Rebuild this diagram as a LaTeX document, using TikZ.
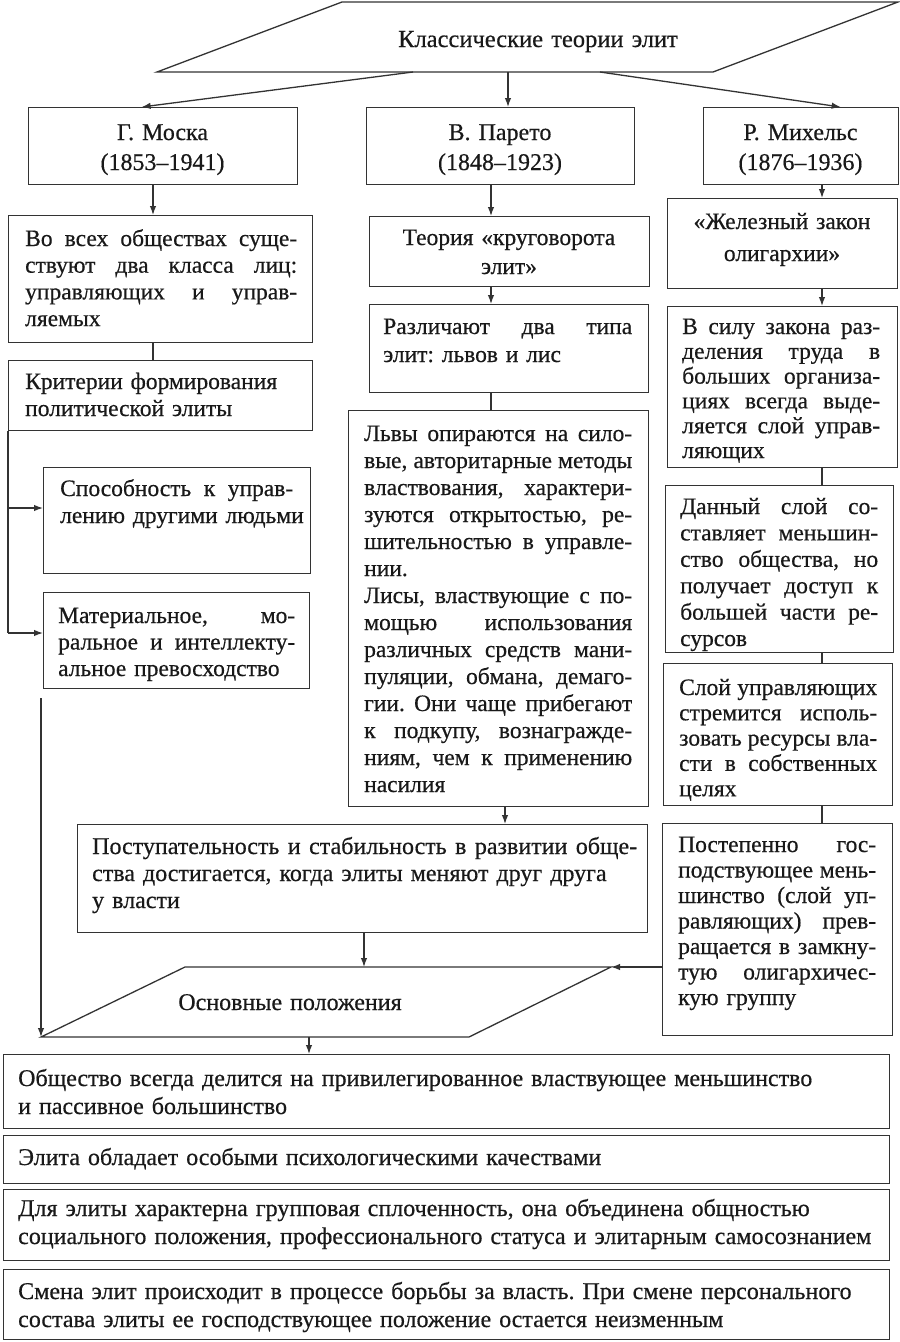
\documentclass[tikz,border=0pt]{standalone}
\usepackage{fontspec}
\setmainfont{Liberation Serif}[FakeBold=0.5]
\usetikzlibrary{arrows.meta,calc}
\newlength\jw
\newcommand\jl[1]{\makebox[\jw][s]{\spaceskip=0.25em plus 1fil minus 0.08em\relax #1}\\}
\newcommand\mkbox[5]{\node[bx, anchor=north west, minimum width={(#4-#2)*1pt}, minimum height={(#5-#3)*1pt}] (#1) at (#2,#3) {};}
\frenchspacing
\begin{document}
\begin{tikzpicture}[x=1pt,y=-1pt,
  ln/.style={draw=black!80, line width=1.3pt},
  bx/.style={ln, rectangle, inner sep=0pt},
  arr/.style={ln, -{Latex[length=9pt,width=6.5pt]}},
  tx/.style={text=black!90, inner sep=0pt, anchor=base west},
  ctx/.style={text=black!90, inner sep=0pt, anchor=base, align=center},
  tw/.style={text width=#1, execute at begin node={\setlength\jw{#1}}},
]
\fill[white] (0,0) rectangle (900,1342);
\useasboundingbox (0,0) rectangle (900,1342);

% top parallelogram
\draw[ln] (342,2) -- (898,2) -- (713,72) -- (157,72) -- cycle;
\node[ctx, text width=400pt, font=\fontsize{24.5}{28}\selectfont] (ptop) at (538,47) {Классические теории элит};
\coordinate (p1a) at (413,72);
\coordinate (p1b) at (508,72);
\coordinate (p1c) at (600,72);

% top boxes
\mkbox{moska}{28}{107}{297}{184}
\mkbox{pareto}{366}{107}{634}{184}
\mkbox{mich}{703}{107}{898}{184}
\node[ctx, text width=260pt, font=\fontsize{24}{30}\selectfont] (tmoska) at (162.5,140) {Г. Моска\\(1853–1941)};
\node[ctx, text width=260pt, font=\fontsize{24}{30}\selectfont] (tpareto) at (500,140) {В. Парето\\(1848–1923)};
\node[ctx, text width=190pt, font=\fontsize{24}{30}\selectfont] (tmich) at (800.5,140) {Р. Михельс\\(1876–1936)};

% left column
\mkbox{boxA}{8}{215}{312}{342}
\mkbox{boxB}{8}{360}{312}{430}
\mkbox{boxC}{43}{467}{310}{573}
\mkbox{boxD}{43}{592}{309}{688}
\node[tx, tw=272pt, font=\fontsize{23.5}{26.7}\selectfont] (tA) at (25,246) {%
\jl{Во всех обществах суще-}
\jl{ствуют два класса лиц:}
\jl{управляющих и управ-}
ляемых};
\node[tx, tw=282pt, font=\fontsize{23.5}{27}\selectfont] (tB) at (25,389) {Критерии формирования\\политической элиты};
\node[tx, tw=233pt, font=\fontsize{23.5}{27}\selectfont] (tC) at (60,496) {%
\jl{Способность к управ-}
\mbox{лению другими людьми}};
\node[tx, tw=237pt, font=\fontsize{23.5}{26.5}\selectfont] (tD) at (58,623) {%
\jl{Материальное, мо-}
\jl{ральное и интеллекту-}
\mbox{альное превосходство}};

% middle column
\mkbox{boxE}{369}{216}{649}{286}
\mkbox{boxF}{369}{304}{648}{392}
\mkbox{lvy}{348}{410}{648}{806}
\mkbox{posl}{77}{824}{647}{932}
\node[ctx, text width=270pt, font=\fontsize{23.5}{29}\selectfont] (tE) at (509,245) {Теория «круговорота\\элит»};
\node[tx, tw=249pt, font=\fontsize{23.5}{28}\selectfont] (tF) at (383,334) {%
\jl{Различают два типа}
элит: львов и лис};
\node[tx, tw=268pt, font=\fontsize{23.5}{27}\selectfont] (tL) at (364,441) {%
\jl{Львы опираются на сило-}
\jl{вые, авторитарные методы}
\jl{властвования, характери-}
\jl{зуются открытостью, ре-}
\jl{шительностью в управле-}
нии.\\
\jl{Лисы, властвующие с по-}
\jl{мощью использования}
\jl{различных средств мани-}
\jl{пуляции, обмана, демаго-}
\jl{гии. Они чаще прибегают}
\jl{к подкупу, вознагражде-}
\jl{ниям, чем к применению}
насилия};
\node[tx, tw=545pt, font=\fontsize{24}{27}\selectfont] (tP) at (92,854) {%
\jl{Поступательность и стабильность в развитии обще-}
\mbox{ства достигается, когда элиты меняют друг друга}\\
у власти};

% right column
\mkbox{zel}{667}{198}{897}{288}
\mkbox{vsilu}{667}{306}{897}{467}
\mkbox{dannyi}{665}{485}{893}{652}
\mkbox{sloy}{663}{663}{892}{805}
\mkbox{postep}{662}{823}{892}{1035}
\node[ctx, text width=228pt, font=\fontsize{23.5}{32}\selectfont] (tZ) at (782,229) {«Железный закон\\олигархии»};
\node[tx, tw=198pt, font=\fontsize{23.5}{24.8}\selectfont] (tV) at (682,334) {%
\jl{В силу закона раз-}
\jl{деления труда в}
\jl{больших организа-}
\jl{циях всегда выде-}
\jl{ляется слой управ-}
ляющих};
\node[tx, tw=198pt, font=\fontsize{23.5}{26.4}\selectfont] (tDn) at (680,514) {%
\jl{Данный слой со-}
\jl{ставляет меньшин-}
\jl{ство общества, но}
\jl{получает доступ к}
\jl{большей части ре-}
сурсов};
\node[tx, tw=198pt, font=\fontsize{23.5}{25.3}\selectfont] (tS) at (679,695) {%
\jl{Слой управляющих}
\jl{стремится исполь-}
\jl{зовать ресурсы вла-}
\jl{сти в собственных}
целях};
\node[tx, tw=198pt, font=\fontsize{23.5}{25.5}\selectfont] (tPs) at (678,852) {%
\jl{Постепенно гос-}
\jl{подствующее мень-}
\jl{шинство (слой уп-}
\jl{равляющих) прев-}
\jl{ращается в замкну-}
\jl{тую олигархичес-}
кую группу};

% lower parallelogram
\draw[ln] (185,967) -- (611,967) -- (469,1037) -- (41,1037) -- cycle;
\node[ctx, text width=300pt, font=\fontsize{24}{28}\selectfont] (pbot) at (290,1010) {Основные положения};
\coordinate (p2t) at (364,967);
\coordinate (p2tr) at (611,967);
\coordinate (p2bl) at (41,1037);
\coordinate (p2b) at (309,1037);

% bottom boxes
\mkbox{b1}{3}{1054}{889}{1128}
\mkbox{b2}{3}{1135}{889}{1183}
\mkbox{b3}{3}{1189}{889}{1260}
\mkbox{b4}{3}{1269}{889}{1339}
\node[tx, text width=865pt, font=\fontsize{24}{28}\selectfont] (tb1) at (18,1086) {Общество всегда делится на привилегированное властвующее меньшинство\\и пассивное большинство};
\node[tx, text width=865pt, font=\fontsize{24}{28}\selectfont] (tb2) at (18,1165) {Элита обладает особыми психологическими качествами};
\node[tx, text width=865pt, font=\fontsize{24}{28}\selectfont] (tb3) at (18,1216) {Для элиты характерна групповая сплоченность, она объединена общностью\\социального положения, профессионального статуса и элитарным самосознанием};
\node[tx, text width=865pt, font=\fontsize{24}{28}\selectfont] (tb4) at (18,1299) {Смена элит происходит в процессе борьбы за власть. При смене персонального\\состава элиты ее господствующее положение остается неизменным};

% connectors
\coordinate (xa) at (153,0);
\coordinate (xp) at (491,0);
\coordinate (xl) at (505,0);
\coordinate (xm) at (822,0);
\coordinate (yc) at (0,508);
\coordinate (yd) at (0,633);
\coordinate (ls) at (41,698);

\draw[arr] (p1a) -- ([xshift=-21.5pt]moska.north);
\draw[arr] (p1b) -- (pareto.north -| p1b);
\draw[arr] (p1c) -- ([xshift=39.5pt]mich.north);

\draw[arr] (moska.south -| xa) -- (boxA.north -| xa);
\draw[ln] (boxA.south -| xa) -- (boxB.north -| xa);
\draw[ln] (boxB.south west) -- (boxB.south west |- yd);
\draw[arr] (boxB.south west |- yc) -- (boxC.west |- yc);
\draw[arr] (boxB.south west |- yd) -- (boxD.west |- yd);
\draw[arr] (ls) -- (p2bl);

\draw[arr] (pareto.south -| xp) -- (boxE.north -| xp);
\draw[arr] (boxE.south -| xp) -- (boxF.north -| xp);
\draw[ln] (boxF.south -| xp) -- (lvy.north -| xp);
\draw[arr] (lvy.south -| xl) -- (posl.north -| xl);
\draw[arr] (posl.south -| p2t) -- (p2t);

\draw[arr] (mich.south -| xm) -- (zel.north -| xm);
\draw[arr] (zel.south -| xm) -- (vsilu.north -| xm);
\draw[ln] (vsilu.south -| xm) -- (dannyi.north -| xm);
\draw[ln] (dannyi.south -| xm) -- (sloy.north -| xm);
\draw[ln] (sloy.south -| xm) -- (postep.north -| xm);
\draw[arr] (postep.west |- p2tr) -- (p2tr);

\draw[arr] (p2b) -- (b1.north -| p2b);
\end{tikzpicture}
\end{document}
